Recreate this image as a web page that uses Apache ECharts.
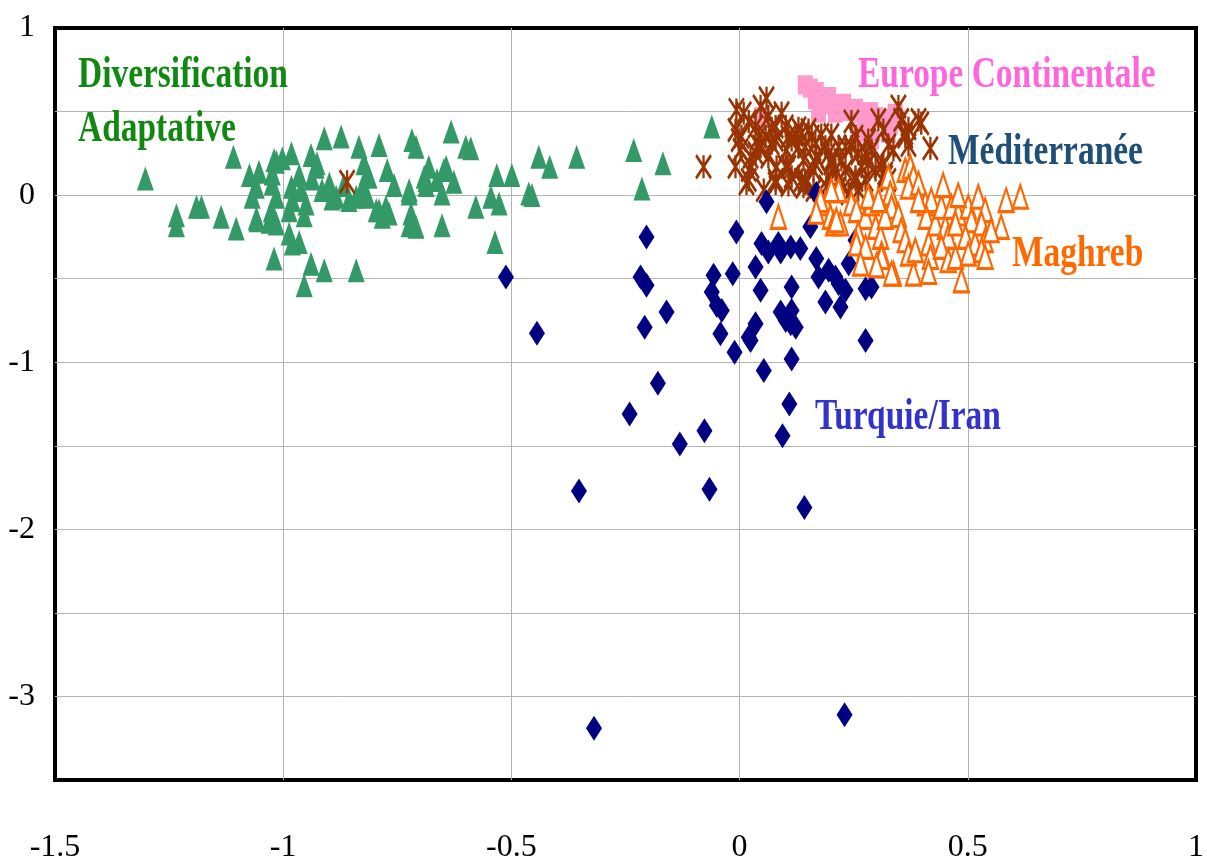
<!DOCTYPE html>
<html>
<head>
<meta charset="utf-8">
<script src="https://cdn.jsdelivr.net/npm/echarts@6/dist/echarts.min.js"></script>
<style>
  html, body { margin: 0; padding: 0; background: #fff; }
  #main { width: 1207px; height: 864px; }
</style>
</head>
<body>
<div id="main"></div>
<script>
// axes
var xTicks = [-1.5, -1, -0.5, 0, 0.5, 1];
var yTicks = [1, 0, -1, -2, -3];

// Diversification Adaptative (triangles verts)
var adaptative = [
  [-1.302, 0.10], [-1.234, -0.12], [-1.234, -0.18], [-1.190, -0.07], [-1.179, -0.07],
  [-1.136, -0.13], [-1.103, -0.20], [-1.109, 0.23], [-1.074, 0.12], [-1.053, 0.14],
  [-1.068, -0.01], [-1.059, 0.05], [-1.059, -0.14], [-1.020, 0.21], [-1.002, 0.22],
  [-0.982, 0.25], [-1.024, 0.07], [-1.015, -0.01], [-1.026, -0.09], [-1.031, -0.16],
  [-1.015, -0.17], [-1.020, -0.38], [-0.987, -0.23], [-0.980, -0.29], [-0.965, -0.28],
  [-0.982, 0.05], [-0.980, -0.03], [-0.987, -0.09], [-0.954, -0.54], [-0.939, -0.41],
  [-0.910, -0.45], [-0.840, -0.45], [-0.961, 0.03], [-0.950, -0.05], [-0.954, -0.12],
  [-0.939, 0.24], [-0.928, 0.17], [-0.937, 0.10], [-0.910, 0.34], [-0.873, 0.35],
  [-0.915, 0.03], [-0.899, 0.05], [-0.893, -0.02], [-0.834, 0.29], [-0.790, 0.30],
  [-0.816, 0.13], [-0.827, 0.04], [-0.818, -0.01], [-0.772, 0.15], [-0.796, -0.09],
  [-0.783, -0.13], [-0.775, -0.07], [-0.768, -0.11], [-0.724, 0.01], [-0.720, -0.11],
  [-0.724, -0.18], [-0.718, 0.33], [-0.709, 0.29], [-0.632, 0.38], [-0.600, 0.29],
  [-0.589, 0.28], [-0.681, 0.17], [-0.691, 0.11], [-0.687, 0.06], [-0.643, 0.17],
  [-0.626, 0.08], [-0.652, 0.01], [-0.709, -0.19], [-0.652, -0.18], [-0.578, -0.07],
  [-0.532, 0.12], [-0.499, 0.12], [-0.545, -0.01], [-0.527, -0.05], [-0.462, 0.01],
  [-0.455, 0.00], [-0.440, 0.23], [-0.416, 0.17], [-0.357, 0.23], [-0.536, -0.28],
  [-0.232, 0.27], [-0.168, 0.19], [-0.214, 0.04], [-0.061, 0.41], [-0.856, -0.03],
  [-0.867, 0.06], [-0.965, 0.12], [-0.757, 0.06], [-0.663, 0.09], [-1.015, 0.20],
  [-1.024, 0.13], [-0.926, 0.19], [-0.899, 0.07], [-0.823, 0.19], [-0.812, 0.11],
  [-0.724, 0.03], [-0.648, 0.15], [-0.687, 0.09], [-0.884, -0.01], [-0.840, -0.01],
  [-0.818, 0.01], [-0.790, -0.09], [-1.057, -0.15]
];

// Europe Continentale (carres roses)
var europe = [
  [0.144, 0.66], [0.155, 0.64], [0.168, 0.62], [0.166, 0.57], [0.195, 0.59],
  [0.188, 0.54], [0.228, 0.55], [0.223, 0.50], [0.254, 0.52], [0.267, 0.49],
  [0.287, 0.50], [0.298, 0.47], [0.311, 0.46], [0.341, 0.49], [0.348, 0.45],
  [0.326, 0.37], [0.048, 0.47], [0.173, 0.49], [0.210, 0.49], [0.276, 0.45],
  [0.282, 0.41], [0.289, 0.33], [0.260, 0.37], [0.330, 0.42]
];

// Méditerranée (asterisques bruns)
var mediterranee = [
  [-0.079, 0.17], [0.059, 0.58], [-0.007, 0.51], [0.009, 0.49], [-0.009, 0.39],
  [-0.002, 0.33], [0.002, 0.27], [-0.009, 0.17], [0.020, 0.15], [0.015, 0.07],
  [0.035, 0.41], [0.042, 0.35], [0.046, 0.29], [0.035, 0.25], [0.063, 0.47],
  [0.070, 0.40], [0.079, 0.33], [0.063, 0.23], [0.081, 0.17], [0.079, 0.07],
  [0.092, 0.49], [0.101, 0.41], [0.107, 0.35], [0.103, 0.27], [0.107, 0.17],
  [0.114, 0.11], [0.107, 0.06], [0.129, 0.40], [0.136, 0.37], [0.129, 0.29],
  [0.140, 0.21], [0.136, 0.09], [0.140, 0.05], [0.151, 0.39], [0.158, 0.35],
  [0.166, 0.31], [0.168, 0.23], [0.162, 0.15], [0.179, 0.36], [0.188, 0.29],
  [0.195, 0.25], [0.201, 0.19], [0.195, 0.11], [0.190, 0.05], [0.217, 0.29],
  [0.223, 0.21], [0.210, 0.15], [0.232, 0.15], [0.245, 0.44], [0.254, 0.35],
  [0.245, 0.29], [0.260, 0.25], [0.267, 0.17], [0.254, 0.09], [0.260, 0.03],
  [0.282, 0.33], [0.289, 0.27], [0.298, 0.15], [0.276, 0.09], [0.304, 0.45],
  [0.315, 0.39], [0.311, 0.17], [0.319, 0.13], [0.326, 0.09], [0.348, 0.53],
  [0.354, 0.45], [0.370, 0.40], [0.363, 0.35], [0.398, 0.43], [0.418, 0.28],
  [0.046, 0.53], [0.004, 0.35], [0.024, 0.23], [0.026, 0.17], [0.057, 0.35],
  [0.070, 0.31], [0.020, 0.44], [-0.860, 0.08], [0.144, 0.07], [0.239, 0.01],
  [0.370, 0.30], [0.337, 0.27], [0.201, 0.36], [0.392, 0.45], [0.020, 0.09],
  [0.079, 0.09], [0.101, 0.17], [0.144, 0.09], [0.166, 0.19], [0.201, 0.21],
  [0.217, 0.09], [0.254, 0.11], [0.282, 0.19], [0.315, 0.19], [0.319, 0.11],
  [0.042, 0.29], [0.114, 0.33], [0.144, 0.29], [0.232, 0.29], [0.276, 0.25],
  [0.326, 0.30], [0.363, 0.37], [0.079, 0.41], [0.123, 0.36], [0.053, 0.03],
  [0.162, 0.03], [0.228, 0.04]
];

// Turquie/Iran (losanges bleu marine)
var turquieIran = [
  [-0.512, -0.49], [-0.444, -0.826], [-0.319, -3.19], [-0.352, -1.77], [-0.241, -1.31],
  [-0.204, -0.25], [-0.217, -0.49], [-0.204, -0.54], [-0.208, -0.79], [-0.160, -0.70],
  [-0.179, -1.126], [-0.131, -1.49], [-0.077, -1.41], [-0.066, -1.76], [-0.057, -0.48],
  [-0.061, -0.58], [-0.050, -0.66], [-0.039, -0.69], [-0.042, -0.83], [-0.015, -0.47],
  [-0.007, -0.22], [-0.011, -0.94], [0.020, -0.85], [0.024, -0.87], [0.035, -0.77],
  [0.053, -1.05], [0.059, -0.04], [0.035, -0.43], [0.046, -0.57], [0.048, -0.29],
  [0.063, -0.34], [0.085, -0.29], [0.090, -0.34], [0.112, -0.31], [0.133, -0.32],
  [0.114, -0.55], [0.090, -0.70], [0.101, -0.75], [0.114, -0.69], [0.123, -0.79],
  [0.112, -0.77], [0.114, -0.98], [0.168, 0.01], [0.155, -0.19], [0.168, -0.38],
  [0.173, -0.49], [0.195, -0.45], [0.210, -0.49], [0.217, -0.53], [0.232, -0.57],
  [0.188, -0.64], [0.221, -0.67], [0.239, -0.41], [0.276, -0.56], [0.289, -0.55],
  [0.276, -0.87], [0.254, -0.27], [0.094, -1.44], [0.109, -1.25], [0.142, -1.87],
  [0.230, -3.11]
];

// Maghreb (triangles orange vides)
var maghreb = [
  [0.188, -0.05], [0.199, -0.13], [0.206, -0.17], [0.221, -0.17], [0.217, 0.03],
  [0.245, -0.05], [0.256, -0.09], [0.276, -0.13], [0.260, -0.23], [0.256, -0.29],
  [0.276, -0.31], [0.265, -0.41], [0.289, -0.05], [0.298, -0.19], [0.309, -0.25],
  [0.311, -0.35], [0.326, 0.11], [0.330, 0.01], [0.333, -0.07], [0.319, -0.13],
  [0.337, -0.47], [0.348, -0.12], [0.354, -0.21], [0.363, -0.27], [0.363, 0.15],
  [0.374, 0.17], [0.381, 0.11], [0.370, 0.05], [0.392, 0.07], [0.370, -0.35],
  [0.385, -0.33], [0.381, -0.47], [0.407, -0.05], [0.420, -0.03], [0.409, -0.13],
  [0.429, -0.17], [0.414, -0.29], [0.418, -0.37], [0.414, -0.46], [0.442, -0.07],
  [0.451, -0.19], [0.457, -0.25], [0.442, -0.31], [0.457, -0.39], [0.473, -0.37],
  [0.464, -0.07], [0.479, -0.11], [0.473, -0.17], [0.501, -0.07], [0.508, -0.15],
  [0.495, -0.25], [0.516, -0.29], [0.501, -0.35], [0.486, -0.51], [0.523, -0.01],
  [0.538, -0.09], [0.530, -0.17], [0.538, -0.27], [0.530, -0.33], [0.538, -0.37],
  [0.573, -0.19], [0.584, -0.03], [0.615, -0.01], [0.551, -0.21], [0.201, 0.03],
  [0.282, -0.01], [0.304, -0.03], [0.085, -0.13], [0.212, -0.15], [0.311, -0.37],
  [0.333, -0.47], [0.177, -0.03], [0.168, -0.10], [0.300, -0.42], [0.392, -0.03],
  [0.479, 0.00], [0.446, 0.06]
];

var myChart = echarts.init(document.getElementById('main'));

var serif = 'Liberation Serif, Times New Roman, serif';
var asterisk = 'path://M0,0L20,30M20,0L0,30M10,0L10,30';

function label(text, x, y, color) {
    return {
        type: 'text',
        x: x,
        y: y,
        scaleX: 0.76,
        style: {
            text: text,
            fill: color,
            font: 'bold 44px ' + serif,
            verticalAlign: 'middle'
        },
        z: 100
    };
}

var option = {
    animation: false,
    backgroundColor: '#fff',
    grid: {
        left: 55, right: 9, top: 28, bottom: 84,
        show: true,
        borderColor: '#000',
        borderWidth: 4,
        backgroundColor: 'transparent'
    },
    xAxis: {
        type: 'value',
        min: xTicks[0],
        max: xTicks[xTicks.length - 1],
        interval: 0.5,
        axisLine: { show: false },
        axisTick: { show: false },
        splitLine: { showMinLine: false, showMaxLine: false, lineStyle: { color: '#b4b4b4', width: 1 } },
        axisLabel: {
            margin: 52,
            color: '#000',
            fontFamily: serif,
            fontSize: 32
        }
    },
    yAxis: {
        type: 'value',
        min: -3.5,
        max: yTicks[0],
        interval: 0.5,
        axisLine: { show: false },
        axisTick: { show: false },
        splitLine: { showMinLine: false, showMaxLine: false, lineStyle: { color: '#b4b4b4', width: 1 } },
        axisLabel: {
            margin: 20,
            color: '#000',
            fontFamily: serif,
            fontSize: 32,
            formatter: function (v) {
                return yTicks.indexOf(v) >= 0 ? String(v) : '';
            }
        }
    },
    series: [{
        name: 'Diversification Adaptative',
        type: 'scatter',
        symbol: 'triangle',
        symbolSize: [17, 24],
        itemStyle: { color: '#339966', opacity: 1 },
        data: adaptative
    }, {
        name: 'Europe Continentale',
        type: 'scatter',
        symbol: 'rect',
        symbolSize: [15, 19],
        itemStyle: { color: '#ff99cc', opacity: 1 },
        data: europe
    }, {
        name: 'Méditerranée',
        type: 'scatter',
        symbol: asterisk,
        symbolSize: [15, 23],
        itemStyle: { color: '#993300', borderColor: '#993300', borderWidth: 2.8, opacity: 1 },
        data: mediterranee
    }, {
        name: 'Turquie/Iran',
        type: 'scatter',
        symbol: 'diamond',
        symbolSize: [16, 25],
        itemStyle: { color: '#000080', opacity: 1 },
        data: turquieIran
    }, {
        name: 'Maghreb',
        type: 'scatter',
        symbol: 'triangle',
        symbolSize: [15, 23],
        itemStyle: { color: '#fff', borderColor: '#ff6600', borderWidth: 2.5, opacity: 1 },
        data: maghreb
    }],
    graphic: [
        label('Diversification', 78, 76, '#118811'),
        label('Adaptative', 78, 130, '#118811'),
        label('Europe Continentale', 858, 76, '#ff66dd'),
        label('Méditerranée', 948, 153, '#1f4e79'),
        label('Maghreb', 1012, 255, '#ff6a00'),
        label('Turquie/Iran', 815, 418, '#3333cc')
    ]
};

myChart.setOption(option);
</script>
</body>
</html>
